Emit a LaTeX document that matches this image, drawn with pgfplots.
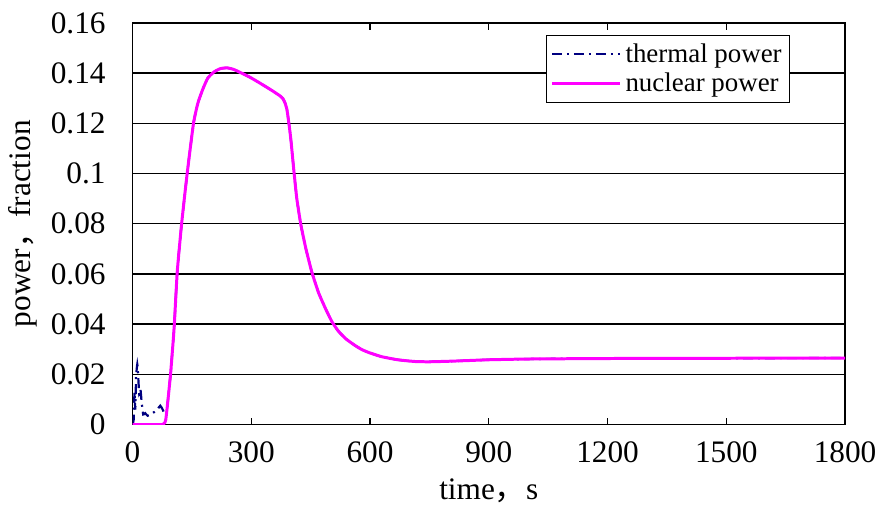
\documentclass[border=0pt]{standalone}
\usepackage{pgfplots}
\pgfplotsset{compat=1.18}
\usepackage{pgfplotstable}
\usepackage{fontspec}
\setmainfont{Liberation Serif}
\newfontfamily\cjk{Noto Sans CJK SC}

\definecolor{thermal}{RGB}{0,0,128}
\definecolor{nuclear}{RGB}{255,0,255}

% nuclear power fraction vs time (s)
\pgfplotstableread{
t v
0 0
40 0
76 0
81 0.0006
84 0.002
88 0.0075
96 0.020
103 0.034
106 0.041
113 0.061
124 0.080
138 0.100
154 0.120
165 0.128
177 0.1334
190 0.138
206 0.1405
222 0.1418
239 0.1421
255 0.1415
269 0.1405
295 0.1385
320 0.1362
350 0.1333
372 0.1310
380 0.1298
385 0.1282
390 0.1255
395 0.120
400 0.1135
408 0.1004
415 0.090
425 0.0798
438 0.070
453 0.0607
470 0.0525
488 0.0460
504 0.0409
520 0.0372
540 0.0340
563 0.0314
580 0.0298
600 0.0285
630 0.0270
670 0.0258
714 0.0251
750 0.0250
798 0.0252
850 0.0255
900 0.0258
1000 0.0261
1200 0.0263
1500 0.0264
1800 0.0265
}\nucleartab

% thermal power: noisy start, then follows nuclear power
\pgfplotstableread{
t v
0 0
3 0.002
5 0.013
7 0.006
9 0.019
12 0.024
14 0.020
17 0.012
20 0.014
23 0.009
27 0.004
32 0.0045
38 0.0035
45 0.004
55 0.005
63 0.006
70 0.0075
76 0.006
82 0.004
86 0.004
88 0.0075
96 0.020
103 0.034
106 0.041
113 0.061
124 0.080
138 0.100
154 0.120
165 0.128
177 0.1334
190 0.138
206 0.1405
222 0.1418
239 0.1421
255 0.1415
269 0.1405
295 0.1385
320 0.1362
350 0.1333
372 0.1310
380 0.1298
385 0.1282
390 0.1255
395 0.120
400 0.1135
408 0.1004
415 0.090
425 0.0798
438 0.070
453 0.0607
470 0.0525
488 0.0460
504 0.0409
520 0.0372
540 0.0340
563 0.0314
580 0.0298
600 0.0285
630 0.0270
670 0.0258
714 0.0251
750 0.0250
798 0.0252
850 0.0255
900 0.0258
1000 0.0261
1200 0.0263
1500 0.0264
1800 0.0265
}\thermaltab

\begin{document}
\begin{tikzpicture}[font=\fontsize{15.7}{18}\selectfont]
\begin{axis}[
    scale only axis,
    width=357.5pt, height=201.5pt,
    xmin=0, xmax=1800,
    ymin=0, ymax=0.16,
    xtick={0,300,...,1800},
    ytick={0,0.02,...,0.16},
    scaled y ticks=false,
    /pgf/number format/assume math mode=true,
    /pgf/number format/1000 sep={},
    yticklabel style={/pgf/number format/fixed, /pgf/number format/precision=2, xshift=-10pt},
    xticklabel style={yshift=-5pt},
    tick align=inside,
    major tick length=3.5pt,
    ytick style={draw=none},
    xtick style={black, line width=0.6pt},
    axis line style={black, line width=0.7pt},
    ymajorgrids,
    major grid style={black, line width=0.7pt},
    xlabel={time{\cjk ，}s},
    ylabel={power{\cjk ，}fraction},
    xlabel style={yshift=-1pt},
    legend cell align=left,
    legend style={at={(1,1)}, anchor=north east, xshift=-27.5pt, yshift=-6pt,
        draw=black, line width=0.6pt, fill=white,
        font=\fontsize{13.5}{15.5}\selectfont, row sep=0pt, inner sep=2pt},
    legend image code/.code={\draw[#1] (0cm,0cm) -- (1.2cm,0cm);},
]
\addplot[thermal, line width=1.1pt, smooth, tension=0.3, dash pattern=on 5pt off 2.5pt on 1pt off 2.5pt] table[x=t, y=v] {\thermaltab};
\addlegendentry{thermal power}
\addplot[nuclear, line width=1.5pt, smooth, tension=0.3] table[x=t, y=v] {\nucleartab};
\addlegendentry{nuclear power}
\end{axis}
\path (current axis.south west) ++(-66.5pt,-38.5pt);
\path (current axis.north east) ++(17.5pt,11.5pt);
\end{tikzpicture}
\end{document}
